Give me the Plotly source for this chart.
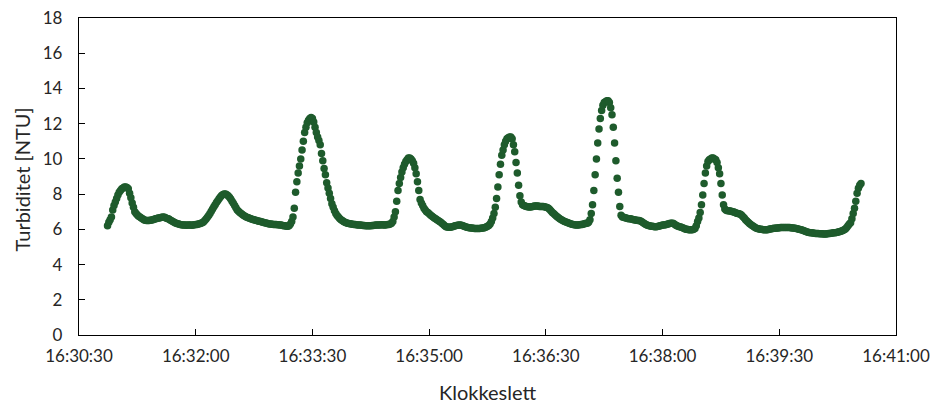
import pandas as pd
import plotly.graph_objects as go

# Turbidity readings, one per second, starting 16:30:52
start_time = "2020-01-01 16:30:52"
turbidity = [
    6.2, 6.4, 6.55, 6.7, 7.1, 7.35, 7.55, 7.75, 7.95, 8.1,
    8.2, 8.3, 8.35, 8.4, 8.4, 8.38, 8.3, 8.05, 7.8, 7.5,
    7.25, 7.0, 6.9, 6.82, 6.75, 6.7, 6.65, 6.6, 6.55, 6.52,
    6.5, 6.5, 6.5, 6.52, 6.53, 6.55, 6.57, 6.6, 6.62, 6.64,
    6.65, 6.67, 6.68, 6.7, 6.68, 6.65, 6.62, 6.6, 6.55, 6.5,
    6.46, 6.42, 6.38, 6.35, 6.32, 6.3, 6.28, 6.26, 6.25, 6.25,
    6.24, 6.23, 6.24, 6.25, 6.24, 6.23, 6.25, 6.26, 6.27, 6.28,
    6.3, 6.32, 6.35, 6.38, 6.42, 6.5, 6.58, 6.68, 6.78, 6.9,
    7.02, 7.15, 7.28, 7.4, 7.52, 7.63, 7.74, 7.84, 7.92, 7.98,
    8.0, 8.0, 7.97, 7.9, 7.82, 7.72, 7.6, 7.48, 7.35, 7.22,
    7.1, 7.02, 6.96, 6.9, 6.84, 6.79, 6.74, 6.7, 6.67, 6.64,
    6.61, 6.58, 6.56, 6.54, 6.52, 6.5, 6.48, 6.46, 6.44, 6.42,
    6.4, 6.38, 6.36, 6.34, 6.32, 6.3, 6.3, 6.29, 6.28, 6.28,
    6.27, 6.26, 6.26, 6.25, 6.24, 6.22, 6.2, 6.2, 6.18, 6.17,
    6.2, 6.3, 6.45, 6.7, 7.2, 8.1, 8.7, 9.2, 9.6, 10.0,
    10.5, 11.0, 11.5, 11.8, 12.05, 12.2, 12.3, 12.35, 12.3, 12.1,
    11.8, 11.5, 11.25, 11.05, 10.8, 10.3, 9.9, 9.45, 9.1, 8.65,
    8.35, 8.05, 7.75, 7.45, 7.25, 7.05, 6.9, 6.78, 6.7, 6.62,
    6.55, 6.5, 6.45, 6.4, 6.37, 6.35, 6.33, 6.31, 6.3, 6.29,
    6.28, 6.27, 6.26, 6.25, 6.25, 6.24, 6.23, 6.22, 6.22, 6.21,
    6.2, 6.2, 6.2, 6.21, 6.22, 6.22, 6.23, 6.24, 6.24, 6.25,
    6.25, 6.26, 6.26, 6.25, 6.25, 6.26, 6.27, 6.28, 6.3, 6.35,
    6.45, 6.7, 7.0, 7.6, 8.2, 8.6, 8.95, 9.25, 9.5, 9.7,
    9.85, 9.95, 10.05, 10.05, 10.0, 9.9, 9.75, 9.5, 9.15, 8.7,
    8.2, 7.7, 7.5, 7.35, 7.2, 7.1, 7.0, 6.95, 6.88, 6.82,
    6.76, 6.7, 6.65, 6.6, 6.55, 6.5, 6.45, 6.4, 6.33, 6.27,
    6.2, 6.15, 6.13, 6.12, 6.12, 6.13, 6.15, 6.17, 6.2, 6.22,
    6.23, 6.24, 6.25, 6.23, 6.2, 6.17, 6.14, 6.12, 6.1, 6.09,
    6.08, 6.07, 6.06, 6.05, 6.05, 6.05, 6.05, 6.05, 6.06, 6.07,
    6.08, 6.1, 6.13, 6.17, 6.22, 6.3, 6.45, 6.65, 6.9, 7.25,
    7.75, 8.4, 9.1, 9.7, 10.2, 10.5, 10.8, 11.0, 11.15, 11.2,
    11.25, 11.25, 11.15, 10.8, 10.4, 9.8, 9.2, 8.5, 7.9, 7.55,
    7.4, 7.35, 7.32, 7.3, 7.28, 7.27, 7.27, 7.28, 7.3, 7.32,
    7.33, 7.33, 7.32, 7.3, 7.3, 7.3, 7.3, 7.28, 7.26, 7.24,
    7.2, 7.12, 7.04, 6.96, 6.9, 6.83, 6.76, 6.7, 6.64, 6.59,
    6.54, 6.5, 6.46, 6.43, 6.4, 6.37, 6.34, 6.31, 6.29, 6.27,
    6.26, 6.25, 6.25, 6.25, 6.26, 6.27, 6.28, 6.3, 6.32, 6.35,
    6.35, 6.4, 6.55, 6.9, 7.4, 8.2, 9.1, 10.0, 10.9, 11.7,
    12.3, 12.75, 13.05, 13.2, 13.25, 13.3, 13.3, 13.2, 12.9, 12.5,
    11.8, 10.9, 9.9, 8.9, 8.1, 7.3, 6.8, 6.7, 6.68, 6.66,
    6.64, 6.62, 6.6, 6.6, 6.58, 6.56, 6.55, 6.53, 6.52, 6.5,
    6.5, 6.47, 6.43, 6.38, 6.33, 6.28, 6.25, 6.22, 6.2, 6.18,
    6.17, 6.16, 6.15, 6.15, 6.16, 6.18, 6.2, 6.22, 6.24, 6.25,
    6.26, 6.28, 6.3, 6.32, 6.34, 6.35, 6.34, 6.3, 6.25, 6.2,
    6.17, 6.15, 6.13, 6.1, 6.07, 6.04, 6.01, 6.0, 5.98, 5.97,
    5.97, 5.98, 6.0, 6.05, 6.2, 6.45, 6.65, 6.95, 7.4, 7.95,
    8.6, 9.2, 9.6, 9.85, 9.95, 10.0, 10.05, 10.05, 10.0, 9.95,
    9.8, 9.5, 9.15, 8.6, 7.95, 7.4, 7.15, 7.08, 7.05, 7.05,
    7.04, 7.02, 7.0, 6.98, 6.95, 6.92, 6.9, 6.88, 6.85, 6.8,
    6.72, 6.64, 6.55, 6.47, 6.4, 6.33, 6.27, 6.22, 6.17, 6.12,
    6.08, 6.05, 6.03, 6.01, 6.0, 5.99, 5.98, 5.98, 5.97, 5.98,
    6.0, 6.02, 6.04, 6.05, 6.06, 6.06, 6.07, 6.08, 6.09, 6.1,
    6.1, 6.1, 6.11, 6.11, 6.1, 6.1, 6.1, 6.09, 6.08, 6.07,
    6.06, 6.05, 6.03, 6.01, 5.99, 5.97, 5.95, 5.92, 5.89, 5.86,
    5.84, 5.82, 5.81, 5.8, 5.79, 5.78, 5.77, 5.76, 5.76, 5.75,
    5.75, 5.75, 5.74, 5.74, 5.74, 5.75, 5.76, 5.77, 5.78, 5.79,
    5.8, 5.81, 5.82, 5.84, 5.86, 5.88, 5.9, 5.93, 5.97, 6.02,
    6.1, 6.2, 6.3, 6.38, 6.6, 6.9, 7.2, 7.6, 8.05, 8.33, 8.5, 8.6,
]

times = pd.date_range(start=start_time, periods=len(turbidity), freq="1s")

tick_labels = ["16:30:30", "16:32:00", "16:33:30", "16:35:00",
               "16:36:30", "16:38:00", "16:39:30", "16:41:00"]
tick_vals = ["2020-01-01 " + t for t in tick_labels]

y_ticks = [0, 2, 4, 6, 8, 10, 12, 14, 16, 18]

x_title = "Klokkeslett"
y_title = "Turbiditet [NTU]"

text_color = "#262626"
font_family = "Lato, 'Open Sans', sans-serif"

fig = go.Figure()
fig.add_trace(go.Scatter(
    x=times, y=turbidity, mode="markers",
    marker=dict(color="#1E5B2C", size=7.5, line=dict(width=0)),
    showlegend=False,
))

fig.update_layout(
    width=936, height=405,
    margin=dict(l=79, r=40, t=18, b=70, autoexpand=False),
    paper_bgcolor="white", plot_bgcolor="white",
    font=dict(family=font_family, size=17, color=text_color),
    annotations=[
        dict(text=x_title, xref="paper", yref="paper", x=0.5, y=-0.18,
             xanchor="center", yanchor="middle", showarrow=False,
             font=dict(size=20, color=text_color)),
        dict(text=y_title, xref="paper", yref="paper", x=-0.07, y=0.49,
             xanchor="center", yanchor="middle", showarrow=False, textangle=-90,
             font=dict(size=20, color=text_color)),
    ],
)
fig.update_xaxes(
    type="date", automargin=False,
    range=[tick_vals[0], tick_vals[-1]],
    tickvals=tick_vals, ticktext=tick_labels,
    ticks="inside", ticklen=6, tickcolor="black", tickwidth=1,
    ticklabelstandoff=5,
    showline=True, linecolor="black", linewidth=1.3, mirror=True,
    showgrid=False, zeroline=False,
    tickfont=dict(size=17, color=text_color),
)
fig.update_yaxes(
    range=[0, 18], tickvals=y_ticks, automargin=False,
    ticks="inside", ticklen=6, tickcolor="black", tickwidth=1,
    ticklabelstandoff=12,
    showline=True, linecolor="black", linewidth=1.3, mirror=True,
    showgrid=False, zeroline=False,
    tickfont=dict(size=17, color=text_color),
)

fig.write_html("out.html")
